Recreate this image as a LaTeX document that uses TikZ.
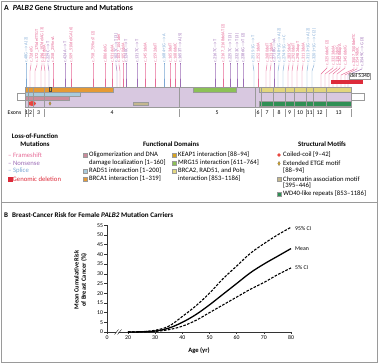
\documentclass[tikz,border=0pt]{standalone}
\usepackage{fontspec}
\setmainfont{Carlito}
\usetikzlibrary{shapes.geometric}
\definecolor{lav}{HTML}{D8C8E0}
\definecolor{brcaone}{HTML}{E59A35}
\definecolor{radblue}{HTML}{A8CBDD}
\definecolor{oligo}{HTML}{CC8C9C}
\definecolor{keap}{HTML}{D9A520}
\definecolor{mrg}{HTML}{8CC157}
\definecolor{khaki}{HTML}{E2D67F}
\definecolor{wd}{HTML}{2F8F55}
\definecolor{chrom}{HTML}{C4B78E}
\definecolor{coil}{HTML}{E8463F}
\definecolor{gdel}{HTML}{DD2B3A}
\definecolor{fs}{HTML}{E66A96}
\definecolor{ns}{HTML}{9B6BB5}
\definecolor{spl}{HTML}{7AA6D3}
\definecolor{gline}{HTML}{9A9A9A}
\newcommand\mra{\ensuremath{\rightarrow}}
\tikzset{
  legtxt/.style={anchor=west,inner sep=0pt,font=\fontsize{6.7}{7.5}\selectfont},
  leghead/.style={inner sep=0pt,align=center,font=\bfseries\fontsize{6.8}{7.6}\selectfont},
  legsq/.style={draw=gline,line width=0.3pt,minimum size=3.8pt,inner sep=0pt},
  mutlab/.style={rotate=90,anchor=west,inner sep=0.2pt,font=\fontsize{4.4}{5}\selectfont},
  exlab/.style={inner sep=0pt,font=\fontsize{5.8}{6.5}\selectfont},
  ticklab/.style={inner sep=0pt,font=\fontsize{5.8}{6.5}\selectfont},
  curvedash/.style={line width=1.1pt,dash pattern=on 2.6pt off 1.4pt},
}
\begin{document}
\begin{tikzpicture}[x=1pt,y=-1pt]
\useasboundingbox (0,0) rectangle (378,363);
% frame
\draw[gline,line width=0.8pt] (1,1) rectangle (377,362);
\draw[gline,line width=0.8pt] (1,202) -- (377,202);
% title A
\node[anchor=west,inner sep=0pt,font=\bfseries\fontsize{7.8}{8.5}\selectfont] (titA) at (4,8) {A\hspace{4pt}\textit{PALB2} Gene Structure and Mutations};

% mutation labels and stems
\foreach \lx/\tx/\by/\col/\txt in {
26/26/63/spl/{c.48G\mra A (2)},
31/30/63/fs/{c.72delG},
37/35/63/fs/{c.172\_175delTTGT},
42/41/63/fs/{c.196\_197delAG (3)},
44/45/63/fs/{c.212delA},
48/49/63/ns/{c.229C\mra T},
53/53/63/fs/{c.258\_259insA},
65/65/63/ns/{c.424A\mra T},
71/71/63/fs/{c.509\_510delGA (6)},
93/93/63/fs/{c.758\_759insT (2)},
105/105/63/fs/{c.886delG},
112/112/63/fs/{c.931delA},
116/117/63/ns/{c.1027C\mra T (3)},
119/120/63/fs/{c.1037\_1041del},
123/123/63/fs/{c.1050delA},
126/126/63/ns/{c.1240C\mra T},
137/137/63/ns/{c.1317C\mra T},
145/145/63/fs/{c.1451delA},
155/155/63/fs/{c.1592delT},
164/164/63/spl/{c.1684+1G\mra A},
170/170/63/fs/{c.1653delT},
175/175/63/fs/{c.1686delC},
180/180/63/ns/{c.1653T\mra A (5)},
215/215/63/ns/{c.2167C\mra T},
223/223/63/fs/{c.2167\_2168delAT (2)},
230/230/63/ns/{c.2257C\mra T (3)},
237/237/63/ns/{c.2323C\mra T (3)},
243/243/63/ns/{c.2386G\mra T (2)},
253/254/63/spl/{c.2515-1G\mra T},
258/258/63/fs/{c.2521delA},
267/266/63/fs/{c.2680delT},
271/270/63/fs/{c.2731delA},
274/274/63/ns/{c.2718G\mra A},
279/278/63/spl/{c.2748+1G\mra A (2)},
284/283/63/spl/{c.2749-1G\mra C},
289/288/63/fs/{c.2835delC},
293/292/63/fs/{c.2920delT},
298/297/63/fs/{c.2982dupT},
303/302/63/fs/{c.3113delA},
308/307/63/spl/{c.3113+1G\mra A (2)},
314/312/63/spl/{c.3201+1G\mra C (2)},
327/321/66/fs/{c.3256delC (2)},
333/325/66/fs/{c.3323delA},
337/329/66/fs/{c.3362delG},
340/333/66/fs/{c.3426dupA},
345/337/66/fs/{c.3456delG},
354/341/67/fs/{c.3507\_3508delTC},
357/345/67/fs/{c.3549delC},
362/348/67/ns/{c.3549C\mra G (3)}}
{
  \node[mutlab,text=\col] (m\lx) at (\lx,\by) {\txt};
  \draw[draw=\col,line width=0.45pt] (m\lx.west) -- ++(0,2) -- (\tx,\by+8) -- (\tx,87);
}

% gene body
\draw[gline,fill=white,line width=0.4pt] (17,93) rectangle (25,100);
\draw[gline,fill=white,line width=0.4pt] (351,93) rectangle (364,100);
\draw[gline,fill=lav,line width=0.4pt] (25,87) rectangle (351,107);
% domains
\draw[gline,fill=brcaone,line width=0.3pt] (25,87) rectangle (113,92);
\draw[gline,fill=radblue,line width=0.3pt] (25,92) rectangle (80,96);
\draw[gline,fill=oligo,line width=0.3pt] (25,96) rectangle (69,100);
\draw[black!70,fill=keap,line width=0.3pt] (49,87.5) rectangle (51.5,91.5);
\draw[gline,fill=mrg,line width=0.3pt] (193,87) rectangle (236,92);
\draw[gline,fill=khaki,line width=0.3pt] (259,87) rectangle (351,92);
\draw[gline,fill=wd,line width=0.3pt] (259,101) rectangle (351,106);
\draw[gline,fill=chrom,line width=0.3pt] (133,102) rectangle (148,105.5);
\fill[coil] (32,103.5) ellipse (4pt and 2.4pt);
\node[diamond,fill=keap,draw=black!60,line width=0.2pt,inner sep=0pt,minimum width=2.2pt,minimum height=4pt] (etge) at (50,103.5) {};
% exon boundaries
\foreach \b in {28,33,44,179,255,261,273,285,294,306,313,326}
  \draw[gline,line width=0.4pt] (\b,87) -- (\b,107);
% genomic deletion
\fill[gdel] (331,80) rectangle (363,84);
\node[draw=gline,fill=white,line width=0.3pt,inner sep=0.8pt,font=\fontsize{5.6}{6}\selectfont] (del) at (360,76) {del 5340};

% exon labels
\node[exlab] (exons) at (14.5,113) {Exons};
\foreach \b in {25,28,33,44,179,255,261,273,285,294,306,313,326,351}
  \draw[gline,line width=0.35pt] (\b,109) -- (\b,117);
\foreach \xx/\lab in {26.5/1,30.5/2,38.5/3,112/4,217/5,258/6,267/7,279/8,289.5/9,300/10,309.5/11,319.5/12,338.5/13}
  \node[exlab] (ex\lab) at (\xx,113) {\lab};

% legend: loss-of-function
\node[leghead] (lofh) at (35,140) {Loss-of-Function\\Mutations};
\node[legtxt,text=fs] (lf1) at (8,155) {– Frameshift};
\node[legtxt,text=ns] (lf2) at (8,163) {– Nonsense};
\node[legtxt,text=spl] (lf3) at (8,171) {– Splice};
\node[legsq,fill=gdel,draw=gdel] (lf4s) at (10,179) {};
\node[legtxt,text=gdel] (lf4) at (12.5,179) {Genomic deletion};

% legend: functional domains
\node[leghead] (fdh) at (171,144) {Functional Domains};
\node[legsq,fill=oligo] (fd1s) at (85.5,155) {};
\node[legtxt] (fd1) at (89,155) {Oligomerization and DNA};
\node[legtxt] (fd1b) at (89,162.5) {damage localization [1–160]};
\node[legsq,fill=radblue] (fd2s) at (85.5,171) {};
\node[legtxt] (fd2) at (89,171) {RAD51 interaction [1–200]};
\node[legsq,fill=brcaone] (fd3s) at (85.5,179) {};
\node[legtxt] (fd3) at (89,179) {BRCA1 interaction [1–319]};
\node[legsq,fill=keap] (fd4s) at (174.5,155) {};
\node[legtxt] (fd4) at (178,155) {KEAP1 interaction [88–94]};
\node[legsq,fill=mrg] (fd5s) at (174.5,163) {};
\node[legtxt] (fd5) at (178,163) {MRG15 interaction [611–764]};
\node[legsq,fill=khaki] (fd6s) at (174.5,171) {};
\node[legtxt] (fd6) at (178,171) {BRCA2, RAD51, and Polη};
\node[legtxt] (fd6b) at (178,178.5) {interaction [853–1186]};

% legend: structural motifs
\node[leghead] (smh) at (322,144) {Structural Motifs};
\fill[coil] (279,155) circle (1.9pt);
\node[legtxt] (sm1) at (283,155) {Coiled-coil [9–42]};
\node[diamond,fill=keap,draw=black!60,line width=0.2pt,inner sep=0pt,minimum width=2.6pt,minimum height=4.4pt] (sm2s) at (279,163.5) {};
\node[legtxt] (sm2) at (283,163.5) {Extended ETGE motif};
\node[legtxt] (sm2b) at (283,170.5) {[88–94]};
\node[legsq,fill=chrom] (sm3s) at (279,179) {};
\node[legtxt] (sm3) at (283,179) {Chromatin association motif};
\node[legtxt] (sm3b) at (283,186) {[395–446]};
\node[legsq,fill=wd] (sm4s) at (279,194) {};
\node[legtxt] (sm4) at (283,194) {WD40-like repeats [853–1186]};

% ---------------- panel B
\node[anchor=west,inner sep=0pt,font=\bfseries\fontsize{7.1}{8}\selectfont] (titB) at (4,215) {B\hspace{4pt}Breast-Cancer Risk for Female \textit{PALB2} Mutation Carriers};

% axes
\draw[black!80,line width=0.5pt] (107,332) -- (107,225.3);
\draw[black!80,line width=0.5pt] (107,332) -- (291,332);
\foreach \v in {0,5,...,55}
{
  \draw[black!80,line width=0.4pt] (104,332-1.94*\v) -- (107,332-1.94*\v);
  \node[ticklab,anchor=east] (yt\v) at (103.3,332-1.94*\v) {\v};
}
\node[ticklab,anchor=north] (xt0) at (107,335.5) {0};
\draw[black!80,line width=0.4pt] (107,332) -- (107,334.5);
\foreach \a in {20,30,...,80}
{
  \draw[black!80,line width=0.4pt] (128+2.717*\a-54.34,332) -- (128+2.717*\a-54.34,334.5);
  \node[ticklab,anchor=north] (xt\a) at (128+2.717*\a-54.34,335.5) {\a};
}
% axis break
\fill[white] (115,334) -- (117,334) -- (121,330) -- (119,330) -- cycle;
\draw[black!80,line width=0.4pt] (114.5,334.5) -- (118.5,329.5);
\draw[black!80,line width=0.4pt] (117.5,334.5) -- (121.5,329.5);

\node[inner sep=0pt,font=\bfseries\fontsize{6.6}{7.2}\selectfont] (agelab) at (199,351) {Age (yr)};
\node[rotate=90,inner sep=0pt,align=center,font=\bfseries\fontsize{6.4}{7.2}\selectfont] (ylab) at (80.5,280) {Mean Cumulative Risk\\of Breast Cancer (\%)};

% curves
\begin{scope}[shift={(128,332)},x=2.717pt,y=1.94pt]
  \draw[black,line width=1.3pt] plot[smooth,tension=0.6] coordinates {(0,0) (5,0.1) (10,0.5) (15,2) (20,5) (25,9) (30,14) (35,19.5) (40,25) (45,30.5) (50,35) (55,39) (60,43)};
  \draw[black,curvedash] plot[smooth,tension=0.6] coordinates {(0,0) (5,0.2) (10,0.9) (15,3) (20,8) (25,13.5) (30,20) (35,27.5) (40,34) (45,40.5) (50,45.5) (55,50) (60,54)};
  \draw[black,curvedash] plot[smooth,tension=0.6] coordinates {(0,0) (5,0.05) (10,0.3) (15,1.2) (20,3) (25,6) (30,10) (35,14) (40,18) (45,22) (50,25.5) (55,29.5) (60,33)};
\end{scope}
\node[ticklab,anchor=west] (c95) at (295,229) {95\% CI};
\node[ticklab,anchor=west] (cmean) at (295,249) {Mean};
\node[ticklab,anchor=west] (c5) at (295,268) {5\% CI};
\end{tikzpicture}
\end{document}
